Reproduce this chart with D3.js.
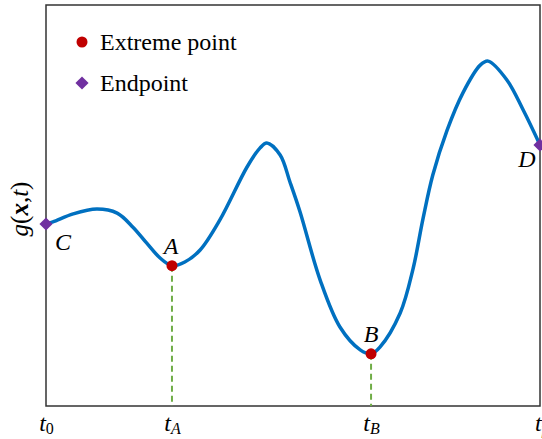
<!DOCTYPE html>
<html>
<head>
<meta charset="utf-8">
<script src="https://cdn.jsdelivr.net/npm/d3@7"></script>
<style>
  body { margin: 0; background: #fff; }
  text { font-family: "Liberation Serif", "DejaVu Serif", serif; }
</style>
</head>
<body>
<div class="graph"></div>
<script>
// curve samples, t in [0, 10], g in [0, 10]
const tValues = [0, 0.14, 0.55, 1.03, 1.44, 1.76, 2.04, 2.31, 2.55, 2.81, 3.12, 3.52, 4.07, 4.33, 4.47, 4.74, 4.94, 5.14, 5.55, 5.95, 6.36, 6.58, 6.76, 7.17, 7.43, 7.63, 7.83, 8.12, 8.44, 8.79, 8.95, 9.33, 9.66, 10];
const gValues = [4.54, 4.59, 4.79, 4.91, 4.81, 4.46, 4.06, 3.69, 3.5, 3.59, 3.89, 4.64, 5.96, 6.43, 6.56, 6.26, 5.58, 4.85, 3.14, 1.97, 1.4, 1.3, 1.47, 2.32, 3.42, 4.66, 5.76, 6.88, 7.81, 8.5, 8.6, 8.13, 7.38, 6.51];

const extremeNames = ["A", "B"];
const extremeT = [2.55, 6.58];
const extremeG = [3.5, 1.3];

const endNames = ["C", "D"];
const endT = [0, 10];
const endG = [4.54, 6.51];

const tickValues = [0, 2.55, 6.58, 10];
const tickSubs = ["0", "A", "B", "f"];

const legendLabels = ["Extreme point", "Endpoint"];

const width = 542, height = 439;
const margin = { top: 5, right: 2, bottom: 33, left: 46 };

const x = d3.scaleLinear().domain([0, 10]).range([margin.left, width - margin.right]);
const y = d3.scaleLinear().domain([0, 10]).range([height - margin.bottom, margin.top]);

const svg = d3.select(".graph")
    .append("svg")
    .attr("width", width)
    .attr("height", height);

// frame
svg.append("rect")
    .attr("x", x(0))
    .attr("y", y(10))
    .attr("width", x(10) - x(0))
    .attr("height", y(0) - y(10))
    .attr("fill", "none")
    .attr("stroke", "#333")
    .attr("stroke-width", 1.5);

// x axis labels only (no tick marks)
const xAxis = d3.axisBottom(x).tickValues(tickValues).tickSize(0).tickFormat("");
const gx = svg.append("g")
    .attr("transform", "translate(0," + y(0) + ")")
    .call(xAxis);
gx.select(".domain").remove();
gx.selectAll(".tick").each(function (d, i) {
    const t = d3.select(this).append("text")
        .attr("y", 25)
        .attr("text-anchor", "middle")
        .attr("fill", "#000")
        .style("font-size", "24px");
    t.append("tspan").attr("font-style", "italic").text("t");
    t.append("tspan")
        .attr("font-style", tickSubs[i] === "0" ? "normal" : "italic")
        .attr("dy", 3)
        .style("font-size", "16px")
        .text(tickSubs[i]);
});

// dashed drop lines
svg.selectAll(".drop")
    .data(extremeT)
    .enter()
    .append("line")
    .attr("x1", d => x(d))
    .attr("x2", d => x(d))
    .attr("y1", (d, i) => y(extremeG[i]))
    .attr("y2", y(0))
    .attr("stroke", "#70ad47")
    .attr("stroke-width", 2)
    .attr("stroke-dasharray", "6,4");

// curve
const line = d3.line()
    .x(d => x(d[0]))
    .y(d => y(d[1]))
    .curve(d3.curveCatmullRom.alpha(0.5));
svg.append("path")
    .datum(tValues.map((t, i) => [t, gValues[i]]))
    .attr("d", line)
    .attr("fill", "none")
    .attr("stroke", "#0070c0")
    .attr("stroke-width", 3.5);

// extreme points
svg.selectAll(".extreme")
    .data(extremeT)
    .enter()
    .append("circle")
    .attr("cx", d => x(d))
    .attr("cy", (d, i) => y(extremeG[i]))
    .attr("r", 5.5)
    .attr("fill", "#c00000");

const diamond = d3.symbol().type(d3.symbolDiamond2).size(110);
svg.selectAll(".end")
    .data(endT)
    .enter()
    .append("path")
    .attr("d", diamond)
    .attr("transform", (d, i) => "translate(" + x(d) + "," + y(endG[i]) + ")")
    .attr("fill", "#7030a0");

// point labels
const labelOffsets = { A: [-1, -12], B: [0, -12], C: [17, 26], D: [-13, 22] };
const allNames = extremeNames.concat(endNames);
const allT = extremeT.concat(endT);
const allG = extremeG.concat(endG);
svg.selectAll(".plabel")
    .data(allNames)
    .enter()
    .append("text")
    .attr("x", (d, i) => x(allT[i]) + labelOffsets[d][0])
    .attr("y", (d, i) => y(allG[i]) + labelOffsets[d][1])
    .attr("text-anchor", "middle")
    .attr("font-style", "italic")
    .style("font-size", "24px")
    .text(d => d);

// y label
const yl = svg.append("text")
    .attr("transform", "translate(28," + 209 + ") rotate(-90)")
    .attr("text-anchor", "middle")
    .style("font-size", "25px");
yl.append("tspan").attr("font-style", "italic").text("g");
yl.append("tspan").text("(");
yl.append("tspan").attr("font-style", "italic").attr("font-weight", "bold").text("x");
yl.append("tspan").text(",");
yl.append("tspan").attr("font-style", "italic").text("t");
yl.append("tspan").text(")");

// legend
const legend = svg.append("g");
legend.append("circle")
    .attr("cx", 82).attr("cy", 42).attr("r", 5.5)
    .attr("fill", "#c00000");
legend.append("path")
    .attr("d", diamond)
    .attr("transform", "translate(82,83)")
    .attr("fill", "#7030a0");
legend.selectAll(".ltext")
    .data(legendLabels)
    .enter()
    .append("text")
    .attr("x", 100)
    .attr("y", (d, i) => 50 + i * 41)
    .style("font-size", "24px")
    .text(d => d);
</script>
</body>
</html>
